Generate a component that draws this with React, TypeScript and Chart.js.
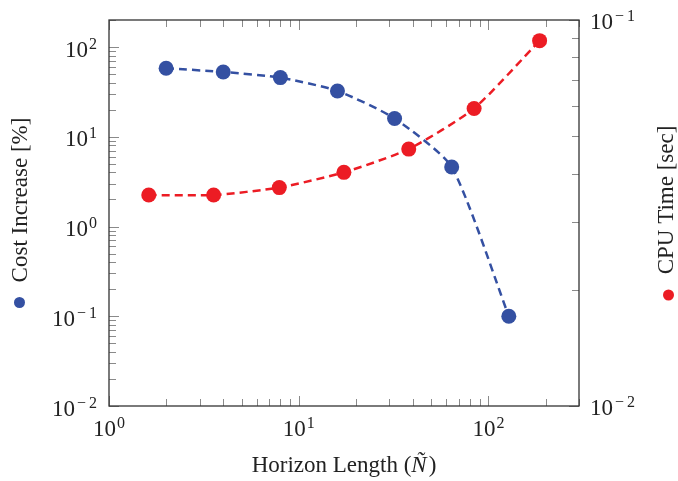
import React, { useEffect, useRef } from 'react';
import { Chart, registerables } from 'chart.js';

Chart.register(...registerables);

// ---- data ----
const horizonCost = [2, 4, 8, 16, 32, 64, 128];
const costIncrease = [58, 52.7, 45.6, 32.4, 16, 4.6, 0.1];
const horizonCpu = [1.62, 3.56, 7.9, 17.3, 38, 84, 186];
const cpuTime = [0.0352, 0.0352, 0.0368, 0.0403, 0.0463, 0.059, 0.0884];

// ---- axes ----
const xRange = [1, 300];
const yLeftRange = [0.01, 200];
const yRightRange = [0.01, 0.1];
const xMajorExps = [0, 1, 2];
const yLeftMajorExps = [-2, -1, 0, 1, 2];
const yRightMajorExps = [-2, -1];
const minorMultipliers = [2, 3, 4, 5, 6, 7, 8, 9];

const xTitleText = 'Horizon Length (';
const xTitleVar = 'Ñ';
const xTitleEnd = ')';
const leftTitle = 'Cost Increase [%]';
const rightTitle = 'CPU Time [sec]';

const BLUE = 'rgb(52,80,162)';
const RED = 'rgb(236,28,36)';
const TEXT = '#222';
const FONT = '"Liberation Serif", "Times New Roman", serif';

function logTicks(min: number, max: number) {
  const majors: number[] = [];
  const minors: number[] = [];
  const lo = Math.floor(Math.log10(min));
  const hi = Math.ceil(Math.log10(max));
  for (let e = lo; e <= hi; e++) {
    const b = Math.pow(10, e);
    if (b >= min * 0.9999 && b <= max * 1.0001) majors.push(b);
    for (const m of minorMultipliers) {
      const v = m * b;
      if (v > min * 1.0001 && v <= max * 1.0001) minors.push(v);
    }
  }
  return { majors, minors };
}

function drawPow(ctx: CanvasRenderingContext2D, exp: number, x: number, y: number, align: 'left' | 'right' | 'center') {
  const base = '10';
  const digits = String(Math.abs(exp));
  const neg = exp < 0;
  ctx.font = `23px ${FONT}`;
  const wb = ctx.measureText(base).width;
  ctx.font = `16px ${FONT}`;
  const wm = neg ? ctx.measureText('\u2212').width + 4 : 0;
  const wd = ctx.measureText(digits).width;
  const total = wb + 1 + wm + wd;
  let sx = x;
  if (align === 'right') sx = x - total;
  else if (align === 'center') sx = x - total / 2;
  ctx.textAlign = 'left';
  ctx.textBaseline = 'alphabetic';
  ctx.fillStyle = TEXT;
  ctx.font = `23px ${FONT}`;
  ctx.fillText(base, sx, y);
  ctx.font = `16px ${FONT}`;
  if (neg) ctx.fillText('\u2212', sx + wb + 2, y - 8);
  ctx.fillText(digits, sx + wb + 1 + wm, y - 8);
}

const decorPlugin = {
  id: 'decor',
  afterDatasetsDraw(chart: any) {
    const ctx: CanvasRenderingContext2D = chart.ctx;
    const { left, right, top, bottom } = chart.chartArea;
    const xs = chart.scales.x;
    const yl = chart.scales.yL;
    const yr = chart.scales.yR;
    ctx.save();
    const MAJ = 10;
    const MIN = 7;
    ctx.strokeStyle = '#8a8a8a';
    ctx.lineWidth = 1;
    const xt = logTicks(xRange[0], xRange[1]);
    const drawX = (v: number, len: number) => {
      const px = Math.round(xs.getPixelForValue(v)) + 0.5;
      ctx.beginPath();
      ctx.moveTo(px, bottom);
      ctx.lineTo(px, bottom - len);
      ctx.moveTo(px, top);
      ctx.lineTo(px, top + len);
      ctx.stroke();
    };
    xt.minors.forEach((v) => drawX(v, MIN));
    xt.majors.forEach((v) => drawX(v, MAJ));
    const ylt = logTicks(yLeftRange[0], yLeftRange[1]);
    const drawYL = (v: number, len: number) => {
      const py = Math.round(yl.getPixelForValue(v)) + 0.5;
      ctx.beginPath();
      ctx.moveTo(left, py);
      ctx.lineTo(left + len, py);
      ctx.stroke();
    };
    ylt.minors.forEach((v) => drawYL(v, MIN));
    ylt.majors.forEach((v) => drawYL(v, MAJ));
    const yrt = logTicks(yRightRange[0], yRightRange[1]);
    const drawYR = (v: number, len: number) => {
      const py = Math.round(yr.getPixelForValue(v)) + 0.5;
      ctx.beginPath();
      ctx.moveTo(right, py);
      ctx.lineTo(right - len, py);
      ctx.stroke();
    };
    yrt.minors.forEach((v) => drawYR(v, MIN));
    yrt.majors.forEach((v) => drawYR(v, MAJ));

    ctx.strokeStyle = '#333';
    ctx.lineWidth = 1.3;
    ctx.strokeRect(left, top, right - left, bottom - top);

    xMajorExps.forEach((e) => drawPow(ctx, e, xs.getPixelForValue(Math.pow(10, e)), bottom + 30, 'center'));
    yLeftMajorExps.forEach((e) => drawPow(ctx, e, left - 12, yl.getPixelForValue(Math.pow(10, e)) + 9.5, 'right'));
    yRightMajorExps.forEach((e) => drawPow(ctx, e, right + 11, yr.getPixelForValue(Math.pow(10, e)) + 9, 'left'));

    ctx.fillStyle = TEXT;
    ctx.textBaseline = 'alphabetic';
    ctx.textAlign = 'left';
    ctx.font = `23px ${FONT}`;
    const w1 = ctx.measureText(xTitleText).width;
    const w3 = ctx.measureText(xTitleEnd).width;
    ctx.font = `italic 23px ${FONT}`;
    const w2 = ctx.measureText(xTitleVar).width;
    const cx = (left + right) / 2;
    const tx = cx - (w1 + w2 + w3 + 2) / 2;
    const ty = 472;
    ctx.font = `23px ${FONT}`;
    ctx.fillText(xTitleText, tx, ty);
    ctx.font = `italic 23px ${FONT}`;
    ctx.fillText(xTitleVar, tx + w1, ty);
    ctx.font = `23px ${FONT}`;
    ctx.fillText(xTitleEnd, tx + w1 + w2 + 2, ty);

    const rot = (text: string, bx: number, cy: number) => {
      ctx.save();
      ctx.translate(bx, cy);
      ctx.rotate(-Math.PI / 2);
      ctx.font = `23px ${FONT}`;
      ctx.textAlign = 'center';
      ctx.textBaseline = 'alphabetic';
      ctx.fillStyle = TEXT;
      ctx.fillText(text, 0, 0);
      ctx.restore();
    };
    rot(leftTitle, 27, 200);
    rot(rightTitle, 673, 200);

    ctx.fillStyle = BLUE;
    ctx.beginPath();
    ctx.arc(19.5, 302.5, 5.5, 0, Math.PI * 2);
    ctx.fill();
    ctx.fillStyle = RED;
    ctx.beginPath();
    ctx.arc(668.5, 295, 5.5, 0, Math.PI * 2);
    ctx.fill();
    ctx.restore();
  },
};

export default function App() {
  const ref = useRef<HTMLCanvasElement | null>(null);
  useEffect(() => {
    if (!ref.current) return;
    const chart = new Chart(ref.current, {
      type: 'line',
      data: {
        datasets: [
          {
            label: leftTitle,
            data: horizonCost.map((x, i) => ({ x, y: costIncrease[i] })),
            yAxisID: 'yL',
            borderColor: BLUE,
            backgroundColor: BLUE,
            borderWidth: 2.5,
            borderDash: [8, 5],
            pointRadius: 7.5,
            pointBorderWidth: 0,
            pointBackgroundColor: BLUE,
            tension: 0.2,
            fill: false,
            clip: false as any,
          },
          {
            label: rightTitle,
            data: horizonCpu.map((x, i) => ({ x, y: cpuTime[i] })),
            yAxisID: 'yR',
            borderColor: RED,
            backgroundColor: RED,
            borderWidth: 2.5,
            borderDash: [8, 5],
            pointRadius: 7.5,
            pointBorderWidth: 0,
            pointBackgroundColor: RED,
            tension: 0.2,
            fill: false,
            clip: false as any,
          },
        ],
      },
      options: {
        animation: false,
        responsive: false,
        maintainAspectRatio: false,
        devicePixelRatio: 1,
        layout: { padding: { left: 109, top: 20, right: 99, bottom: 75 } },
        plugins: { legend: { display: false }, tooltip: { enabled: false } },
        scales: {
          x: { type: 'logarithmic', min: xRange[0], max: xRange[1], display: false },
          yL: { type: 'logarithmic', position: 'left', min: yLeftRange[0], max: yLeftRange[1], display: false },
          yR: { type: 'logarithmic', position: 'right', min: yRightRange[0], max: yRightRange[1], display: false },
        },
      },
      plugins: [decorPlugin],
    });
    return () => chart.destroy();
  }, []);
  return (
    <div style={{ position: 'fixed', left: 0, top: 0, width: 678, height: 481, background: '#fff' }}>
      <canvas ref={ref} width={678} height={481} style={{ display: 'block', width: 678, height: 481 }} />
    </div>
  );
}
